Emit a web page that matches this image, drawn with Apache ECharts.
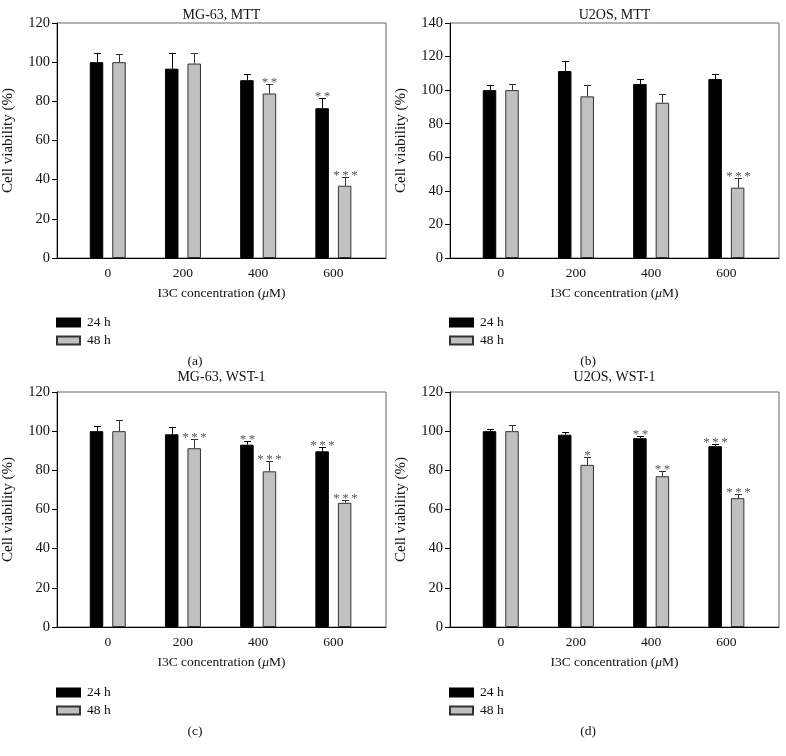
<!DOCTYPE html>
<html><head><meta charset="utf-8">
<script src="https://cdn.jsdelivr.net/npm/echarts@6/dist/echarts.min.js"></script>
<style>html,body{margin:0;padding:0;background:#fff}#c{width:786px;height:756px}</style>
</head><body><div id="c"></div>
<script>
// ---------- data ----------
const concentrations = [0, 200, 400, 600];
const xTickValues = [0, 200, 400, 600];
const seriesNames = ['24 h', '48 h'];
const panelTitles = ['MG-63, MTT', 'U2OS, MTT', 'MG-63, WST-1', 'U2OS, WST-1'];
const panelLetters = ['(a)', '(b)', '(c)', '(d)'];
const yMaxes = [120, 140, 120, 120];
const yInterval = 20;

// (a) MG-63, MTT
const aMean24 = [100, 96.7, 90.8, 76.5];
const aErr24  = [4.9, 7.8, 3.2, 5.2];
const aMean48 = [100, 99.3, 84.0, 36.9];
const aErr48  = [4.2, 5.6, 4.7, 4.7];
const aSig24  = ['', '', '', '**'];
const aSig48  = ['', '', '**', '***'];

// (b) U2OS, MTT
const bMean24 = [100, 111.4, 103.6, 106.6];
const bErr24  = [3.0, 5.9, 3.0, 3.0];
const bMean48 = [100, 96.3, 92.5, 41.9];
const bErr48  = [3.6, 6.7, 5.4, 6.0];
const bSig24  = ['', '', '', ''];
const bSig48  = ['', '', '', '***'];

// (c) MG-63, WST-1
const cMean24 = [100, 98.4, 93.1, 89.7];
const cErr24  = [2.5, 3.7, 2.1, 2.1];
const cMean48 = [100, 91.3, 79.5, 63.4];
const cErr48  = [5.7, 4.6, 5.1, 1.7];
const cSig24  = ['', '', '**', '***'];
const cSig48  = ['', '***', '***', '***'];

// (d) U2OS, WST-1
const dMean24 = [100, 98.2, 96.4, 92.3];
const dErr24  = [1.0, 1.5, 1.2, 1.2];
const dMean48 = [100, 82.8, 77.0, 65.8];
const dErr48  = [3.3, 4.0, 2.5, 2.2];
const dSig24  = ['', '', '**', '***'];
const dSig48  = ['', '*', '**', '***'];

// ---------- layout / style ----------
const FONT = '"Liberation Serif", "DejaVu Serif", serif';
const TXT = '#111';
const BAR_W = 13.5, BAR_GAP = 9, CAP = 7;
const OFFSET = (BAR_W + BAR_GAP) / 2;
const panels = [
  {left: 57,  top: 23,  means: [aMean24, aMean48], errs: [aErr24, aErr48], sigs: [aSig24, aSig48], titleY: 15,  legendTop: 315.5, letterY: 361},
  {left: 450, top: 23,  means: [bMean24, bMean48], errs: [bErr24, bErr48], sigs: [bSig24, bSig48], titleY: 15,  legendTop: 315.5, letterY: 361},
  {left: 57,  top: 392, means: [cMean24, cMean48], errs: [cErr24, cErr48], sigs: [cSig24, cSig48], titleY: 377, legendTop: 685.5, letterY: 731},
  {left: 450, top: 392, means: [dMean24, dMean48], errs: [dErr24, dErr48], sigs: [dSig24, dSig48], titleY: 377, legendTop: 685.5, letterY: 731}
];
const GW = 329, GH = 235;
const barStyles = [
  {color: '#000000', borderColor: '#000000', borderWidth: 1},
  {color: '#c0c0c0', borderColor: '#333333', borderWidth: 1}
];
const errColors = ['#000000', '#333333'];

function makeErrRender(means, errs, sigs, dir, color) {
  return function (params, api) {
    const i = params.dataIndex;
    const x = api.value(0);
    const base = api.coord([x, means[i]]);
    const top = api.coord([x, means[i] + errs[i]]);
    const cx = Math.round(base[0] + dir * OFFSET) + 0.5;
    const ty = Math.round(top[1]) + 0.5;
    const children = [
      {type: 'line', shape: {x1: cx, y1: base[1], x2: cx, y2: ty}, style: {stroke: color, lineWidth: 1}},
      {type: 'line', shape: {x1: cx - CAP / 2, y1: ty, x2: cx + CAP / 2, y2: ty}, style: {stroke: color, lineWidth: 1}}
    ];
    if (sigs[i]) {
      children.push({type: 'text', x: cx, y: ty + 5,
        style: {text: sigs[i].split('').join('\u2009'), fill: '#555', font: '13px ' + FONT, align: 'center', verticalAlign: 'bottom'}});
    }
    return {type: 'group', children: children};
  };
}

const option = {
  animation: false,
  backgroundColor: '#fff',
  grid: [], xAxis: [], yAxis: [], series: [], legend: [], graphic: []
};

panels.forEach(function (p, k) {
  option.grid.push({left: p.left, top: p.top, width: GW, height: GH, show: true, borderColor: '#666', borderWidth: 1, containLabel: false});
  option.xAxis.push({
    type: 'value', gridIndex: k, min: -135, max: 740,
    axisLine: {show: true, onZero: false, lineStyle: {color: '#000', width: 1}},
    axisTick: {show: false},
    splitLine: {show: false},
    axisLabel: {customValues: xTickValues, color: TXT, fontFamily: FONT, fontSize: 13.5, margin: 8},
    name: '{a|I3C concentration (}{i|μ}{a|M)}',
    nameLocation: 'middle', nameGap: 28,
    nameTextStyle: {rich: {a: {fontFamily: FONT, fontSize: 13.5, color: TXT}, i: {fontFamily: FONT, fontSize: 13.5, color: TXT, fontStyle: 'italic'}}}
  });
  option.yAxis.push({
    type: 'value', gridIndex: k, min: 0, max: yMaxes[k], interval: yInterval,
    axisLine: {show: true, onZero: false, lineStyle: {color: '#000', width: 1}},
    axisTick: {show: true, length: 5, lineStyle: {color: '#000'}},
    splitLine: {show: false},
    axisLabel: {color: TXT, fontFamily: FONT, fontSize: 14.5, margin: 7},
    name: 'Cell viability (%)', nameLocation: 'middle', nameGap: 41,
    nameTextStyle: {fontFamily: FONT, fontSize: 15, color: TXT}
  });
  [0, 1].forEach(function (s) {
    option.series.push({
      type: 'bar', name: seriesNames[s], xAxisIndex: k, yAxisIndex: k,
      barWidth: BAR_W, barGap: (BAR_GAP / BAR_W * 100) + '%',
      itemStyle: barStyles[s], z: 2,
      data: concentrations.map(function (c, i) { return [c, p.means[s][i]]; })
    });
  });
  [0, 1].forEach(function (s) {
    option.series.push({
      type: 'custom', xAxisIndex: k, yAxisIndex: k, z: 5, silent: true,
      renderItem: makeErrRender(p.means[s], p.errs[s], p.sigs[s], s === 0 ? -1 : 1, errColors[s]),
      data: concentrations.map(function (c, i) { return [c, p.means[s][i] + p.errs[s][i]]; })
    });
  });
  option.legend.push({
    left: p.left - 1, top: p.legendTop, orient: 'vertical', padding: 0,
    itemWidth: 23, itemHeight: 8, itemGap: 4,
    icon: 'rect', selectedMode: false,
    textStyle: {fontFamily: FONT, fontSize: 13.5, color: TXT, padding: [0, 0, 0, 2]},
    data: seriesNames
  });
  option.graphic.push({
    type: 'text', x: p.left + GW / 2, y: p.titleY,
    style: {text: panelTitles[k], font: '14px ' + FONT, fill: TXT, align: 'center', verticalAlign: 'middle'}
  });
  option.graphic.push({
    type: 'text', x: p.left + 138, y: p.letterY,
    style: {text: panelLetters[k], font: '13.5px ' + FONT, fill: TXT, align: 'center', verticalAlign: 'middle'}
  });
});

const chart = echarts.init(document.getElementById('c'), null, {renderer: 'canvas'});
chart.setOption(option);
</script>
</body></html>
